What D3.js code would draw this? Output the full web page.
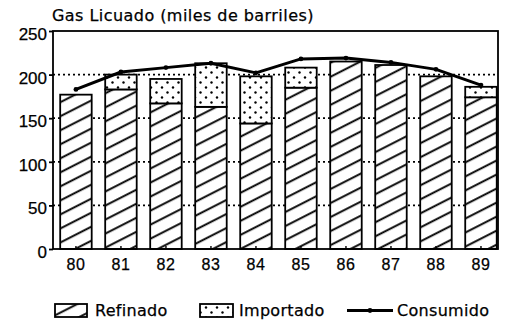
<!DOCTYPE html>
<html>
<head>
<meta charset="utf-8">
<script src="https://cdn.jsdelivr.net/npm/d3@7"></script>
<style>
  html, body { margin: 0; padding: 0; background: #fff; }
  svg { display: block; font-family: "DejaVu Sans", sans-serif; }
  svg text { stroke: #000; stroke-width: 0.25px; }
</style>
</head>
<body>
<div id="chart"></div>
<script>
// data (miles de barriles)
const years = ["80", "81", "82", "83", "84", "85", "86", "87", "88", "89"];
const refinado = [177, 183, 167, 163, 144, 185, 215, 211, 198, 174];
const importado = [0, 17, 28, 50, 54, 23, 0, 0, 0, 12];
const consumido = [183, 203, 208, 213, 202, 218, 219, 214, 206, 188];
const yTicks = [0, 50, 100, 150, 200, 250];
const legendLabels = ["Refinado", "Importado", "Consumido"];

const W = 506, H = 329;
const plot = { left: 53, right: 498, top: 31, bottom: 249 };

const svg = d3.select('#chart')
  .append('svg')
  .attr('width', W)
  .attr('height', H);

const defs = svg.append('defs');

// diagonal hatch for Refinado
const hatch = defs.append('pattern')
  .attr('id', 'hatch')
  .attr('patternUnits', 'userSpaceOnUse')
  .attr('width', 40)
  .attr('height', 12.5)
  .attr('patternTransform', 'rotate(-27)');
hatch.append('rect').attr('width', 40).attr('height', 12.5).attr('fill', '#fff');
hatch.append('line')
  .attr('x1', 0).attr('y1', 6).attr('x2', 40).attr('y2', 6)
  .attr('stroke', '#000')
  .attr('stroke-width', 2);

// dots for Importado
const dots = defs.append('pattern')
  .attr('id', 'dots')
  .attr('patternUnits', 'userSpaceOnUse')
  .attr('width', 11)
  .attr('height', 10);
dots.append('rect').attr('width', 11).attr('height', 10).attr('fill', '#fff');
dots.append('circle').attr('cx', 2.5).attr('cy', 2.5).attr('r', 1.2).attr('fill', '#000');
dots.append('circle').attr('cx', 8).attr('cy', 7.5).attr('r', 1.2).attr('fill', '#000');

const x = d3.scaleBand()
  .domain(years)
  .range([plot.left, plot.right])
  .paddingInner(0.3)
  .paddingOuter(0.094)
  .align(0.85);

const y = d3.scaleLinear()
  .domain([0, 250])
  .range([plot.bottom, plot.top]);

// dotted grid lines
svg.append('g')
  .selectAll('line')
  .data(yTicks.filter(d => d > 0 && d < 250))
  .enter()
  .append('line')
  .attr('x1', plot.left)
  .attr('x2', plot.right)
  .attr('y1', d => y(d))
  .attr('y2', d => y(d))
  .attr('stroke', '#000')
  .attr('stroke-width', 1.8)
  .attr('stroke-dasharray', '2,3');

const stacked = years.map((yr, i) => ({ yr, ref: refinado[i], imp: importado[i] }));

// Refinado bars
svg.append('g')
  .selectAll('rect')
  .data(stacked)
  .enter()
  .append('rect')
  .attr('x', d => x(d.yr))
  .attr('width', x.bandwidth())
  .attr('y', d => y(d.ref))
  .attr('height', d => y(0) - y(d.ref))
  .attr('fill', 'url(#hatch)')
  .attr('stroke', '#000')
  .attr('stroke-width', 1.8);

// Importado on top
svg.append('g')
  .selectAll('rect')
  .data(stacked.filter(d => d.imp > 0))
  .enter()
  .append('rect')
  .attr('x', d => x(d.yr))
  .attr('width', x.bandwidth())
  .attr('y', d => y(d.ref + d.imp))
  .attr('height', d => y(d.ref) - y(d.ref + d.imp))
  .attr('fill', 'url(#dots)')
  .attr('stroke', '#000')
  .attr('stroke-width', 1.8);

// Consumido line
const line = d3.line()
  .x((d, i) => x(years[i]) + x.bandwidth() / 2)
  .y(d => y(d));

svg.append('path')
  .datum(consumido)
  .attr('d', line)
  .attr('fill', 'none')
  .attr('stroke', '#000')
  .attr('stroke-width', 3)
  .attr('stroke-linejoin', 'round');

svg.append('g')
  .selectAll('circle')
  .data(consumido)
  .enter()
  .append('circle')
  .attr('cx', (d, i) => x(years[i]) + x.bandwidth() / 2)
  .attr('cy', d => y(d))
  .attr('r', 2.4)
  .attr('fill', '#000');

// frame
svg.append('rect')
  .attr('x', plot.left)
  .attr('y', plot.top)
  .attr('width', plot.right - plot.left)
  .attr('height', plot.bottom - plot.top)
  .attr('fill', 'none')
  .attr('stroke', '#000')
  .attr('stroke-width', 1.8);

// axes
const yAxis = svg.append('g')
  .attr('transform', `translate(${plot.left},0)`)
  .call(d3.axisLeft(y).tickValues(yTicks).tickSize(4).tickPadding(2));
yAxis.select('.domain').remove();
yAxis.selectAll('line').attr('stroke', '#000').attr('stroke-width', 1.8);
yAxis.selectAll('text')
  .attr('dy', '0.5em')
  .style('font-size', '17px')
  .style('fill', '#000');

const xAxis = svg.append('g')
  .attr('transform', `translate(0,${plot.bottom})`)
  .call(d3.axisBottom(x).tickSize(-3).tickPadding(10));
xAxis.select('.domain').remove();
xAxis.selectAll('line').attr('stroke', '#000').attr('stroke-width', 1.4);
xAxis.selectAll('text')
  .style('font-size', '16px')
  .style('letter-spacing', '0.5px')
  .style('fill', '#000');

// title
svg.append('text')
  .attr('x', 52)
  .attr('y', 21)
  .style('font-size', '16px')
  .style('letter-spacing', '0.45px')
  .style('fill', '#000')
  .text('Gas Licuado (miles de barriles)');

// legend
const leg = svg.append('g');
leg.append('rect')
  .attr('x', 55).attr('y', 304).attr('width', 32).attr('height', 13)
  .attr('fill', 'url(#hatch)').attr('stroke', '#000').attr('stroke-width', 1.8);
leg.append('rect')
  .attr('x', 200).attr('y', 304).attr('width', 33).attr('height', 13)
  .attr('fill', 'url(#dots)').attr('stroke', '#000').attr('stroke-width', 1.8);
leg.append('line')
  .attr('x1', 347).attr('x2', 393).attr('y1', 310.5).attr('y2', 310.5)
  .attr('stroke', '#000').attr('stroke-width', 3);
leg.append('circle')
  .attr('cx', 370).attr('cy', 310.5).attr('r', 2.4).attr('fill', '#000');

leg.selectAll('text.lab')
  .data(legendLabels)
  .enter()
  .append('text')
  .attr('class', 'lab')
  .attr('x', (d, i) => [95, 239, 397][i])
  .attr('y', 316)
  .style('font-size', '16px')
  .style('letter-spacing', '0.3px')
  .style('fill', '#000')
  .text(d => d);
</script>
</body>
</html>
